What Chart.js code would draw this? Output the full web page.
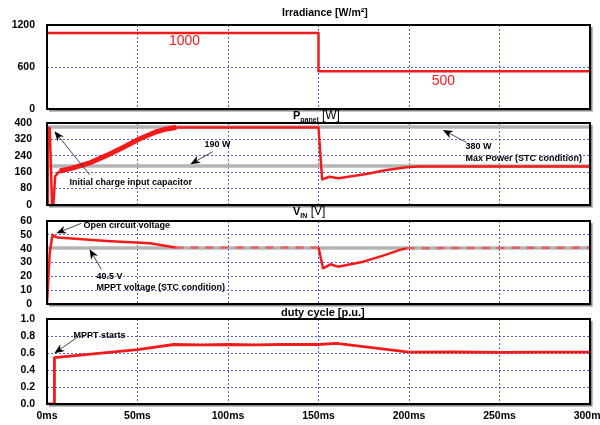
<!DOCTYPE html>
<html>
<head>
<meta charset="utf-8">
<script src="https://cdn.jsdelivr.net/npm/chart.js@4.4.1/dist/chart.umd.min.js"></script>
<style>
  html, body { margin: 0; padding: 0; background: #fff; }
  #wrap { position: relative; width: 600px; height: 425px; overflow: hidden; }
  #wrap canvas { position: absolute; left: 0; top: 0; }
</style>
</head>
<body>
<div id="wrap">
  <canvas id="irr" width="600" height="425"></canvas>
  <canvas id="pow" width="600" height="425"></canvas>
  <canvas id="vin" width="600" height="425"></canvas>
  <canvas id="duty" width="600" height="425"></canvas>
</div>
<script>
// shared time axis (ms)
const timeMin = 0, timeMax = 300, timeStep = 50;

// irradiance [W/m2]
const irrTime  = [0, 150, 150, 300];
const irrValue = [1085, 1085, 540, 540];

// panel power [W]
const powTime  = [0, 0.4, 1.5, 2.8, 3.5, 4.5, 7, 14, 23.5, 33, 42, 51, 60, 66, 71.5, 150, 152, 156, 161, 176.5, 187.6, 198.7, 205, 300];
const powValue = [0, 376, 376, 0, 0, 140, 166, 180, 205, 242, 281, 322, 356, 371, 378, 378, 125, 138, 131, 151, 171, 184, 188, 188];
const maxPower = 380;
const halfPower = 190;

// input voltage [V]
const vinTime  = [0, 1.5, 3, 4, 6, 33, 57, 71, 150, 152.5, 156.6, 160.8, 174.7, 185.7, 195, 198.7, 300];
const vinValue = [0, 37, 50, 49, 48, 45.5, 43.9, 40.8, 40.8, 25.8, 28.7, 27, 30.6, 35, 39.1, 40.3, 40.8];
const mpptVoltage = 40.5;

// duty cycle [p.u.]
const dutyTime  = [0, 4.1, 4.1, 50, 70, 85, 100, 115, 130, 150, 160, 200, 225, 250, 275, 300];
const dutyValue = [0, 0, 0.545, 0.64, 0.70, 0.695, 0.70, 0.695, 0.70, 0.70, 0.714, 0.61, 0.612, 0.608, 0.611, 0.61];

const RED = '#f21a1a';
const GRID = '#5c5cd0';
const GRAY = '#b4b4b4';
const FONT = '"Liberation Sans", Arial, sans-serif';
const ANN = 'bold 9px ' + FONT;

Chart.defaults.font.family = FONT;
Chart.defaults.color = '#000';

const pts = (t, v) => t.map((x, i) => ({ x: x, y: v[i] }));

function txt(ctx, s, x, y, font, color, align) {
  ctx.save();
  ctx.font = font;
  ctx.fillStyle = color || '#000';
  ctx.textAlign = align || 'left';
  ctx.textBaseline = 'middle';
  ctx.fillText(s, x, y);
  ctx.restore();
}

function arrow(ctx, x0, y0, x1, y1) {
  const a = Math.atan2(y1 - y0, x1 - x0);
  const c = Math.cos(a), s = Math.sin(a);
  ctx.save();
  ctx.strokeStyle = '#333';
  ctx.lineWidth = 0.9;
  ctx.beginPath();
  ctx.moveTo(x0, y0);
  ctx.lineTo(x1 - 6 * c, y1 - 6 * s);
  ctx.stroke();
  ctx.fillStyle = '#000';
  ctx.beginPath();
  ctx.moveTo(x1, y1);
  ctx.lineTo(x1 - 10 * c + 4 * s, y1 - 10 * s - 4 * c);
  ctx.lineTo(x1 - 7 * c, y1 - 7 * s);
  ctx.lineTo(x1 - 10 * c - 4 * s, y1 - 10 * s + 4 * c);
  ctx.closePath();
  ctx.fill();
  ctx.restore();
}

function frame(chart) {
  const a = chart.chartArea, ctx = chart.ctx;
  ctx.save();
  ctx.strokeStyle = '#888';
  ctx.lineWidth = 1.5;
  ctx.beginPath();
  ctx.moveTo(a.right + 1.8, a.top + 2);
  ctx.lineTo(a.right + 1.8, a.bottom + 1.8);
  ctx.lineTo(a.left + 2, a.bottom + 1.8);
  ctx.stroke();
  ctx.strokeStyle = '#000';
  ctx.lineWidth = 2;
  ctx.strokeRect(a.left, a.top, a.right - a.left, a.bottom - a.top);
  ctx.restore();
}

// title made of parts: [text, font, dy]
function title(ctx, x, y, parts) {
  ctx.save();
  ctx.fillStyle = '#000';
  ctx.textAlign = 'left';
  ctx.textBaseline = 'alphabetic';
  parts.forEach(p => {
    ctx.font = p[1];
    ctx.fillText(p[0], x, y + (p[2] || 0));
    x += ctx.measureText(p[0]).width;
  });
  ctx.restore();
}

function panel(id, spec) {
  return new Chart(document.getElementById(id), {
    type: 'line',
    data: { datasets: spec.datasets },
    options: {
      responsive: false,
      animation: false,
      devicePixelRatio: 1,
      events: [],
      layout: { padding: { top: spec.top, right: 10, left: 0, bottom: 0 } },
      elements: { point: { radius: 0 }, line: { tension: 0, borderJoinStyle: 'round' } },
      plugins: { legend: { display: false }, tooltip: { enabled: false } },
      scales: {
        x: {
          type: 'linear', min: timeMin, max: timeMax,
          border: { display: false, dash: [2, 2] },
          grid: { color: GRID, lineWidth: 1, drawTicks: false },
          ticks: {
            display: !!spec.showX, stepSize: timeStep, padding: 6,
            maxRotation: 0, autoSkip: false,
            font: { size: 10.5, weight: 'bold' },
            callback: v => v + 'ms'
          },
          afterFit: s => { s.height = 425 - spec.bottom; s.paddingLeft = 0; s.paddingRight = 0; }
        },
        y: {
          min: spec.yMin, max: spec.yMax,
          border: { display: false, dash: [2, 2] },
          grid: { color: GRID, lineWidth: 1, drawTicks: false },
          ticks: {
            stepSize: spec.yStep, padding: spec.labelPad, autoSkip: false,
            font: { size: 10.5, weight: 'bold' },
            callback: spec.yFmt || (v => v)
          },
          afterFit: s => { s.width = 47; s.paddingTop = 0; s.paddingBottom = 0; }
        }
      }
    },
    plugins: [{
      id: 'deco',
      afterDraw(chart) {
        frame(chart);
        spec.draw(chart.ctx, v => chart.scales.x.getPixelForValue(v), v => chart.scales.y.getPixelForValue(v));
      }
    }]
  });
}

// panel 1: irradiance
panel('irr', {
  top: 25, bottom: 109, yMin: 0, yMax: 1200, yStep: 600, labelPad: 12,
  datasets: [{ data: pts(irrTime, irrValue), borderColor: RED, borderWidth: 2.5 }],
  draw(ctx, X, Y) {
    title(ctx, 282, 16, [['Irradiance [W/m\u00B2]', 'bold 10.5px ' + FONT]]);
    txt(ctx, '1000', X(76), Y(971), '14px ' + FONT, RED, 'center');
    txt(ctx, '500', X(219), Y(400), '14px ' + FONT, RED, 'center');
  }
});

// panel 2: panel power
panel('pow', {
  top: 123, bottom: 205, yMin: 0, yMax: 400, yStep: 80, labelPad: 15,
  datasets: [
    {
      data: pts(powTime, powValue), borderColor: RED, borderWidth: 2.5, order: 1,
      segment: { borderWidth: c => (c.p0.parsed.x >= 7 && c.p0.parsed.x < 71.5) ? 5 : 2.5 }
    },
    { data: pts([timeMin, timeMax], [maxPower, maxPower]), borderColor: GRAY, borderWidth: 3.5, order: 2 },
    { data: pts([timeMin, timeMax], [halfPower, halfPower]), borderColor: GRAY, borderWidth: 3.5, order: 2 }
  ],
  draw(ctx, X, Y) {
    title(ctx, 293, 119, [
      ['P', 'bold 11px ' + FONT],
      ['panel', 'bold 7px ' + FONT, 3],
      [' [W]', '12px ' + FONT, 0]
    ]);
    txt(ctx, '190 W', X(87), Y(296), ANN);
    arrow(ctx, X(91.5), Y(260), X(79.2), Y(198.5));
    txt(ctx, 'Initial charge input capacitor', X(12.4), Y(111), ANN);
    arrow(ctx, X(23.5), Y(148), X(4.1), Y(360));
    txt(ctx, '380 W', X(231.2), Y(284), ANN);
    txt(ctx, 'Max Power (STC condition)', X(231.2), Y(228), ANN);
    arrow(ctx, X(231.6), Y(306), X(218.7), Y(366));
  }
});

// panel 3: input voltage
const vinDashed = [7, vinTime.length - 2];
panel('vin', {
  top: 221, bottom: 304, yMin: 0, yMax: 60, yStep: 10, labelPad: 15,
  datasets: [
    {
      data: pts(vinTime, vinValue), borderColor: RED, borderWidth: 2.5, order: 1,
      segment: {
        borderDash: c => vinDashed.includes(c.p0DataIndex) ? [8, 7] : undefined,
        borderColor: c => vinDashed.includes(c.p0DataIndex) ? 'rgba(240,70,70,0.75)' : undefined
      }
    },
    { data: pts([timeMin, timeMax], [mpptVoltage, mpptVoltage]), borderColor: GRAY, borderWidth: 3.5, order: 2 }
  ],
  draw(ctx, X, Y) {
    title(ctx, 293, 215, [
      ['V', 'bold 11px ' + FONT],
      ['IN', 'bold 7px ' + FONT, 3],
      [' [V]', '12px ' + FONT, 0]
    ]);
    txt(ctx, 'Open circuit voltage', X(20.2), Y(56.4), ANN);
    arrow(ctx, X(18.9), Y(58.3), X(5.1), Y(51.1));
    txt(ctx, '40.5 V', X(27.4), Y(20.2), ANN);
    txt(ctx, 'MPPT voltage (STC condition)', X(27.4), Y(11.8), ANN);
    arrow(ctx, X(30), Y(25.1), X(23.5), Y(39.6));
  }
});

// panel 4: duty cycle
panel('duty', {
  top: 319, bottom: 404, yMin: 0, yMax: 1, yStep: 0.2, labelPad: 12, showX: true,
  yFmt: v => v.toFixed(1),
  datasets: [{ data: pts(dutyTime, dutyValue), borderColor: RED, borderWidth: 2.8 }],
  draw(ctx, X, Y) {
    title(ctx, 281, 316, [['duty cycle [p.u.]', 'bold 11px ' + FONT]]);
    txt(ctx, 'MPPT starts', X(14.7), Y(0.81), ANN);
    arrow(ctx, X(16.2), Y(0.776), X(4.1), Y(0.596));
  }
});
</script>
</body>
</html>
